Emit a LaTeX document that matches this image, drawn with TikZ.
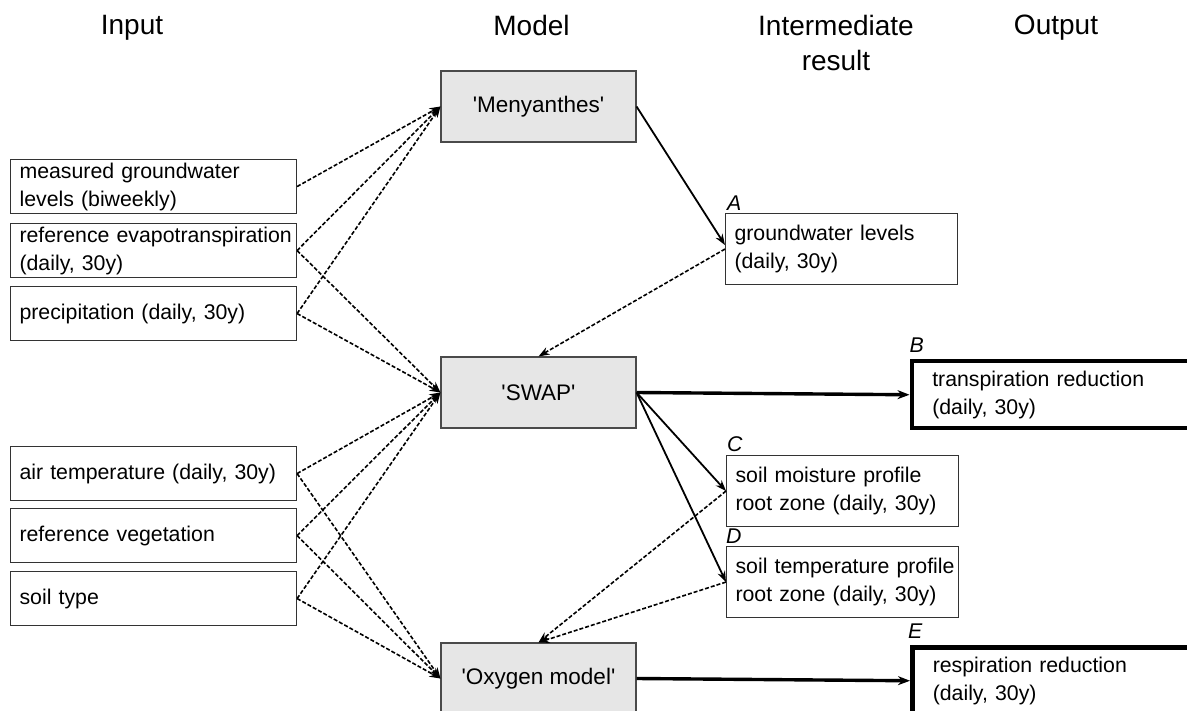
\documentclass[tikz,border=0pt]{standalone}
\usepackage{fontspec}
\setmainfont{Liberation Sans}
\usetikzlibrary{arrows.meta}
\definecolor{modfill}{HTML}{E6E6E6}
\definecolor{modline}{HTML}{4A4A4A}
\definecolor{boxline}{HTML}{333333}
\newcommand{\sq}{\textquotesingle}
\begin{document}
\begin{tikzpicture}[x=1pt,y=-1pt,
  every node/.style={font=\fontsize{21.3}{28}\selectfont},
  inbox/.style={draw=boxline, line width=1.1pt, rectangle, anchor=north west, text width=274pt, inner xsep=6pt, inner ysep=0pt, minimum height=54pt, align=left},
  modbox/.style={draw=modline, fill=modfill, line width=1.1pt, minimum width=195pt, minimum height=71pt, inner sep=0pt, font=\fontsize{22.5}{28}\selectfont},
  midbox/.style={draw=boxline, line width=1.1pt, anchor=north west, text width=220pt, inner xsep=6pt, inner ysep=0pt, minimum height=71pt, align=left},
  outbox/.style={draw=black, line width=4.5pt, anchor=north west, text width=280pt, inner xsep=20.5pt, inner ysep=0pt, minimum height=67pt, align=left},
  hdr/.style={font=\fontsize{28}{35}\selectfont, align=center, anchor=north, inner sep=0pt},
  lbl/.style={font=\fontsize{21.3}{28}\selectfont\itshape, anchor=base west, inner sep=0pt},
  dsh/.style={line width=1.6pt, dash pattern=on 4pt off 2pt, -{Stealth[length=11pt,width=8pt]}},
  sol/.style={line width=1.8pt, -{Stealth[length=11pt,width=8pt]}},
  thk/.style={line width=3.4pt, -{Stealth[length=12pt,width=9pt]}},
]
\useasboundingbox (0,0) rectangle (1187,711);

% headers
\node[hdr] (hin) at (132,15) {Input};
\node[hdr] (hmo) at (531.5,15) {Model};
\node[hdr] (hint) at (836,15) {Intermediate\\result};
\node[hdr] (hout) at (1056,15) {Output};

% input boxes
\node[inbox] (i1) at (10,159) {\hspace*{3pt}measured groundwater\\\hspace*{3pt}levels (biweekly)};
\node[inbox] (i2) at (10,223) {\hspace*{3pt}\mbox{reference evapotranspiration}\\\hspace*{3pt}(daily, 30y)};
\node[inbox] (i3) at (10,286) {\hspace*{3pt}precipitation (daily, 30y)};
\node[inbox] (i4) at (10,446) {\hspace*{3pt}air temperature (daily, 30y)};
\node[inbox] (i5) at (10,508) {\hspace*{3pt}reference vegetation};
\node[inbox] (i6) at (10,571) {\hspace*{3pt}soil type};

% model boxes
\node[modbox] (m) at (538.5,106.5) {\sq Menyanthes\sq};
\node[modbox] (s) at (538.5,392.5) {\sq SWAP\sq};
\node[modbox] (o) at (538.5,678.5) {\sq Oxygen model\sq};

% intermediate boxes
\node[midbox] (a) at (725,213) {\hspace*{3pt}groundwater levels\\\hspace*{3pt}(daily, 30y)};
\node[midbox] (c) at (726,455) {\hspace*{3pt}soil moisture profile\\\hspace*{3pt}root zone (daily, 30y)};
\node[midbox] (d) at (726,546) {\hspace*{3pt}\mbox{soil temperature profile}\\\hspace*{3pt}root zone (daily, 30y)};

% output boxes
\node[outbox] (b) at (909.5,359) {transpiration reduction\\(daily, 30y)};
\node[outbox] (e) at (910,645) {respiration reduction\\(daily, 30y)};

% letters
\node[lbl] (la) at ([xshift=2pt,yshift=2pt]a.north west) {A};
\node[lbl] (lb) at ([xshift=0pt,yshift=6pt]b.north west) {B};
\node[lbl] (lc) at ([xshift=1pt,yshift=3pt]c.north west) {C};
\node[lbl] (ld) at ([xshift=0pt,yshift=3pt]d.north west) {D};
\node[lbl] (le) at ([xshift=-2pt,yshift=7pt]e.north west) {E};

% input connectors
\draw[dsh] (i1.east) -- (m.west);
\draw[dsh] (i2.east) -- (m.west);
\draw[dsh] (i3.east) -- (m.west);
\draw[dsh] (i2.east) -- (s.west);
\draw[dsh] (i3.east) -- (s.west);
\draw[dsh] (i4.east) -- (s.west);
\draw[dsh] (i5.east) -- (s.west);
\draw[dsh] (i6.east) -- (s.west);
\draw[dsh] (i4.east) -- (o.west);
\draw[dsh] (i5.east) -- (o.west);
\draw[dsh] (i6.east) -- (o.west);

% model connectors
\draw[sol] (m.east) -- ([yshift=4pt]a.west);
\draw[dsh] (a.west) -- (s.north);
\draw[thk] (s.east) -- (b.west);
\draw[sol] (s.east) -- (c.west);
\draw[sol] (s.east) -- (d.west);
\draw[dsh] (c.west) -- (o.north);
\draw[dsh] (d.west) -- (o.north);
\draw[thk] (o.east) -- (e.west);
\end{tikzpicture}
\end{document}
